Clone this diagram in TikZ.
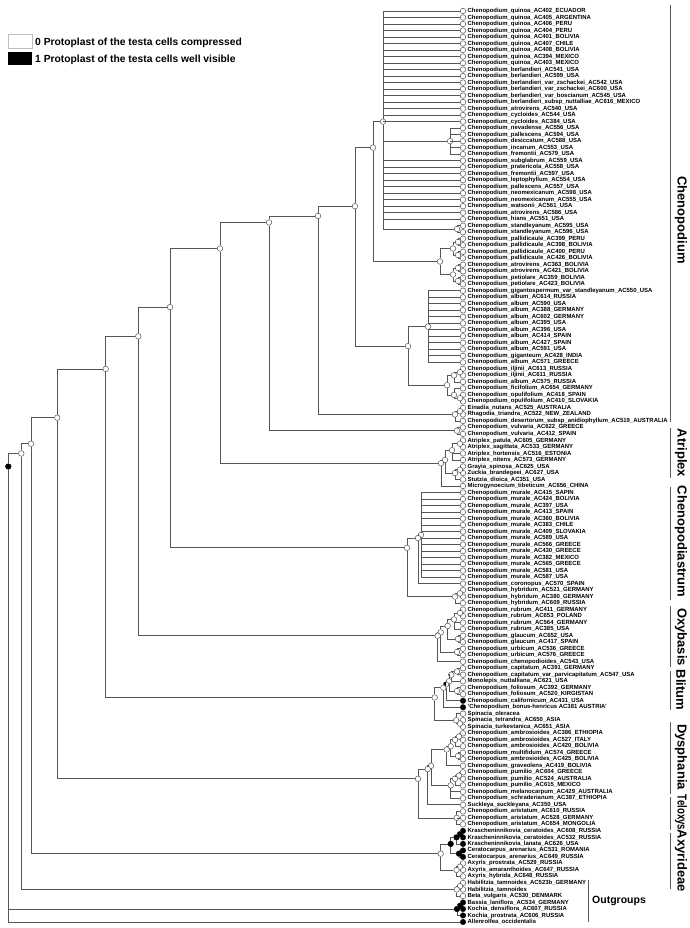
\documentclass[tikz,border=0pt]{standalone}
\usepackage{fontspec}
\setmainfont{Liberation Sans}
\definecolor{linec}{HTML}{555555}
\newcommand\inn[5][inode]{\node[#1] (#2) at (#3,{11+6.507*((#4+#5)/2-1)}) {};}
\newcommand\kids[2]{\foreach \c in {#2}{\draw[br] (#1) |- (\c);}}
\begin{document}
\catcode`\_=12
\begin{tikzpicture}[x=1pt,y=-1pt,
  br/.style={draw=linec, line width=0.75pt},
  leafc/.style={circle, draw=linec, fill=white, line width=0.5pt, inner sep=0pt, minimum size=5.6pt},
  inode/.style={leafc},
  bnode/.style={leafc, fill=black, draw=black},
  lab/.style={anchor=west, inner sep=0pt, font=\bfseries\fontsize{5.95}{6}\selectfont},
  clade/.style={font=\bfseries\fontsize{13}{13}\selectfont, rotate=-90, inner sep=0pt},
  bar/.style={draw=black!65, line width=0.8pt}]
\path[use as bounding box] (0,0) rectangle (689,928);
% legend
\node[draw=black!25, fill=white, minimum width=24pt, minimum height=14pt, inner sep=0pt, anchor=north west, line width=0.5pt] (key0) at (8,34) {};
\node[anchor=west, inner sep=0pt, font=\bfseries\fontsize{10.3}{11}\selectfont] (keyt0) at (35,43) {0 Protoplast of the testa cells compressed};
\node[fill=black, minimum width=24pt, minimum height=13pt, inner sep=0pt, anchor=north west] (key1) at (8,52) {};
\node[anchor=west, inner sep=0pt, font=\bfseries\fontsize{10.3}{11}\selectfont] (keyt1) at (35,60) {1 Protoplast of the testa cells well visible};
% leaves
\foreach \n [count=\i] in {
Chenopodium_quinoa_AC402_ECUADOR,
Chenopodium_quinoa_AC405_ARGENTINA,
Chenopodium_quinoa_AC406_PERU,
Chenopodium_quinoa_AC404_PERU,
Chenopodium_quinoa_AC401_BOLIVIA,
Chenopodium_quinoa_AC407_CHILE,
Chenopodium_quinoa_AC408_BOLIVIA,
Chenopodium_quinoa_AC394_MEXICO,
Chenopodium_quinoa_AC403_MEXICO,
Chenopodium_berlandieri_AC541_USA,
Chenopodium_berlandieri_AC599_USA,
Chenopodium_berlandieri_var_zschackei_AC542_USA,
Chenopodium_berlandieri_var_zschackei_AC600_USA,
Chenopodium_berlandieri_var_boscianum_AC545_USA,
Chenopodium_berlandieri_subsp_nuttalliae_AC616_MEXICO,
Chenopodium_atrovirens_AC540_USA,
Chenopodium_cycloides_AC544_USA,
Chenopodium_cycloides_AC384_USA,
Chenopodium_nevadense_AC556_USA,
Chenopodium_pallescens_AC594_USA,
Chenopodium_desiccatum_AC588_USA,
Chenopodium_incanum_AC553_USA,
Chenopodium_fremontii_AC579_USA,
Chenopodium_subglabrum_AC559_USA,
Chenopodium_pratericola_AC558_USA,
Chenopodium_fremontii_AC597_USA,
Chenopodium_leptophyllum_AC554_USA,
Chenopodium_pallescens_AC557_USA,
Chenopodium_neomexicanum_AC598_USA,
Chenopodium_neomexicanum_AC555_USA,
Chenopodium_watsonii_AC561_USA,
Chenopodium_atrovirens_AC586_USA,
Chenopodium_hians_AC551_USA,
Chenopodium_standleyanum_AC595_USA,
Chenopodium_standleyanum_AC596_USA,
Chenopodium_pallidicaule_AC399_PERU,
Chenopodium_pallidicaule_AC398_BOLIVIA,
Chenopodium_pallidicaule_AC400_PERU,
Chenopodium_pallidicaule_AC426_BOLIVIA,
Chenopodium_atrovirens_AC363_BOLIVIA,
Chenopodium_atrovirens_AC421_BOLIVIA,
Chenopodium_petiolare_AC359_BOLIVIA,
Chenopodium_petiolare_AC423_BOLIVIA,
Chenopodium_gigantospermum_var_standleyanum_AC550_USA,
Chenopodium_album_AC614_RUSSIA,
Chenopodium_album_AC590_USA,
Chenopodium_album_AC388_GERMANY,
Chenopodium_album_AC602_GERMANY,
Chenopodium_album_AC395_USA,
Chenopodium_album_AC396_USA,
Chenopodium_album_AC414_SPAIN,
Chenopodium_album_AC427_SPAIN,
Chenopodium_album_AC591_USA,
Chenopodium_giganteum_AC428_INDIA,
Chenopodium_album_AC571_GREECE,
Chenopodium_iljinii_AC613_RUSSIA,
Chenopodium_iljinii_AC611_RUSSIA,
Chenopodium_album_AC575_RUSSIA,
Chenopodium_ficifolium_AC654_GERMANY,
Chenopodium_opulifolium_AC418_SPAIN,
Chenopodium_opulifolium_AC410_SLOVAKIA,
Einadia_nutans_AC525_AUSTRALIA,
Rhagodia_triandra_AC522_NEW_ZEALAND,
Chenopodium_desertorum_subsp_anidiophyllum_AC519_AUSTRALIA,
Chenopodium_vulvaria_AC622_GREECE,
Chenopodium_vulvaria_AC412_SPAIN,
Atriplex_patula_AC605_GERMANY,
Atriplex_sagittata_AC533_GERMANY,
Atriplex_hortensis_AC516_ESTONIA,
Atriplex_nitens_AC573_GERMANY,
Grayia_spinosa_AC625_USA,
Zuckia_brandegeei_AC627_USA,
Stutzia_dioica_AC351_USA,
Microgynoecium_tibeticum_AC656_CHINA,
Chenopodium_murale_AC415_SAPIN,
Chenopodium_murale_AC424_BOLIVIA,
Chenopodium_murale_AC397_USA,
Chenopodium_murale_AC413_SPAIN,
Chenopodium_murale_AC360_BOLIVIA,
Chenopodium_murale_AC383_CHILE,
Chenopodium_murale_AC409_SLOVAKIA,
Chenopodium_murale_AC589_USA,
Chenopodium_murale_AC566_GREECE,
Chenopodium_murale_AC430_GREECE,
Chenopodium_murale_AC382_MEXICO,
Chenopodium_murale_AC565_GREECE,
Chenopodium_murale_AC581_USA,
Chenopodium_murale_AC587_USA,
Chenopodium_coronopus_AC570_SPAIN,
Chenopodium_hybridum_AC521_GERMANY,
Chenopodium_hybridum_AC380_GERMANY,
Chenopodium_hybridum_AC609_RUSSIA,
Chenopodium_rubrum_AC411_GERMANY,
Chenopodium_rubrum_AC653_POLAND,
Chenopodium_rubrum_AC564_GERMANY,
Chenopodium_rubrum_AC385_USA,
Chenopodium_glaucum_AC652_USA,
Chenopodium_glaucum_AC417_SPAIN,
Chenopodium_urbicum_AC536_GREECE,
Chenopodium_urbicum_AC576_GREECE,
Chenopodium_chenopodioides_AC543_USA,
Chenopodium_capitatum_AC391_GERMANY,
Chenopodium_capitatum_var_parvicapitatum_AC547_USA,
Monolepis_nuttalliana_AC621_USA,
Chenopodium_foliosum_AC392_GERMANY,
Chenopodium_foliosum_AC520_KIRGISTAN,
Chenopodium_californicum_AC431_USA,
'Chenopodium_bonus-henricus AC381 AUSTRIA',
Spinacia_oleracea,
Spinacia_tetrandra_AC650_ASIA,
Spinacia_turkestanica_AC651_ASIA,
Chenopodium_ambrosioides_AC386_ETHIOPIA,
Chenopodium_ambrosioides_AC527_ITALY,
Chenopodium_ambrosioides_AC420_BOLIVIA,
Chenopodium_multifidum_AC574_GREECE,
Chenopodium_ambrosioides_AC425_BOLIVIA,
Chenopodium_graveolens_AC419_BOLIVIA,
Chenopodium_pumilio_AC604_GREECE,
Chenopodium_pumilio_AC524_AUSTRALIA,
Chenopodium_pumilio_AC615_MEXICO,
Chenopodium_melanocarpum_AC429_AUSTRALIA,
Chenopodium_schraderianum_AC387_ETHIOPIA,
Suckleya_suckleyana_AC350_USA,
Chenopodium_aristatum_AC610_RUSSIA,
Chenopodium_aristatum_AC528_GERMANY,
Chenopodium_aristatum_AC654_MONGOLIA,
Krascheninnikovia_ceratoides_AC608_RUSSIA,
Krascheninnikovia_ceratoides_AC532_RUSSIA,
Krascheninnikovia_lanata_AC626_USA,
Ceratocarpus_arenarius_AC531_ROMANIA,
Ceratocarpus_arenarius_AC649_RUSSIA,
Axyris_prostrata_AC529_RUSSIA,
Axyris_amaranthoides_AC647_RUSSIA,
Axyris_hybrida_AC648_RUSSIA,
Habilitzia_tamnoides_AC523b_GERMANY,
Habilitzia_tamnoides,
Beta_vulgaris_AC530_DENMARK,
Bassia_laniflora_AC534_GERMANY,
Kochia_densiflora_AC607_RUSSIA,
Kochia_prostrata_AC606_RUSSIA,
Allenrolfea_occidentalis}{
  \node[leafc] (l\i) at (463,{11+6.507*(\i-1)}) {};
  \node[lab] (t\i) at ([xshift=1.4pt]l\i.east) {\n};
}
\foreach \i in {107,108,127,128,129,130,131,138,139,140,141} \fill[black] (l\i) circle (2.8pt);
% ---- Chenopodium
\inn{c1923}{450}{19}{23} \kids{c1923}{l19,l20,l21,l22,l23}
\inn{c3435}{457}{34}{35} \kids{c3435}{l34,l35}
\inn{P1}{383}{1}{35}
\foreach \i in {1,...,18} \draw[br] (P1) |- (l\i);
\foreach \i in {24,...,33} \draw[br] (P1) |- (l\i);
\kids{P1}{c1923,c3435}
\inn{pa1}{458}{36}{37} \kids{pa1}{l36,l37}
\inn{pa2}{458}{38}{39} \kids{pa2}{l38,l39}
\inn{PAa}{453}{36}{39} \kids{PAa}{pa1,pa2}
\inn{pb1}{458}{40}{41} \kids{pb1}{l40,l41}
\inn{pb2}{458}{42}{43} \kids{pb2}{l42,l43}
\inn{PAb}{453}{40}{43} \kids{PAb}{pb1,pb2}
\inn{PA}{440}{36}{43} \kids{PA}{PAa,PAb}
\inn{C143}{373}{1}{43} \kids{C143}{P1,PA}
\inn{AL}{428}{44}{55}
\foreach \i in {44,...,55} \draw[br] (AL) |- (l\i);
\inn{i1}{460}{56}{57} \kids{i1}{l56,l57}
\inn{i2}{454}{56}{58} \kids{i2}{i1,l58}
\inn{f1}{460}{60}{61} \kids{f1}{l60,l61}
\inn{f2}{454}{59}{61} \kids{f2}{l59,f1}
\inn{I3}{447}{56}{61} \kids{I3}{i2,f2}
\inn{ALL}{408}{44}{61} \kids{ALL}{AL,I3}
\inn{C161}{355}{1}{61} \kids{C161}{C143,ALL}
\inn{e1}{460}{62}{63} \kids{e1}{l62,l63}
\inn{E}{455}{62}{64} \kids{E}{e1,l64}
\inn{C164}{318}{1}{64} \kids{C164}{C161,E}
\inn{V}{457}{65}{66} \kids{V}{l65,l66}
\inn{C166}{269}{1}{66} \kids{C166}{C164,V}
% ---- Atriplex
\inn{at1}{460}{67}{68} \kids{at1}{l67,l68}
\inn{AT}{452}{67}{70} \kids{AT}{at1,l69,l70}
\inn{g1}{460}{71}{72} \kids{g1}{l71,l72}
\inn{G}{455}{71}{73} \kids{G}{g1,l73}
\inn{AT2}{445}{67}{73} \kids{AT2}{AT,G}
\inn{ATR}{441}{67}{74} \kids{ATR}{AT2,l74}
\inn{N1}{220}{1}{74} \kids{N1}{C166,ATR}
% ---- Chenopodiastrum
\inn{MU}{421}{75}{88}
\foreach \i in {75,...,88} \draw[br] (MU) |- (l\i);
\inn{MC}{418}{75}{89} \kids{MC}{MU,l89}
\inn{h1}{460}{90}{91} \kids{h1}{l90,l91}
\inn{H}{455}{90}{92} \kids{H}{h1,l92}
\inn{CHD}{407}{75}{92} \kids{CHD}{MC,H}
\inn{N2}{170}{1}{92} \kids{N2}{N1,CHD}
% ---- Oxybasis
\inn{r1}{460}{93}{94} \kids{r1}{l93,l94}
\inn{O4}{454}{93}{96} \kids{O4}{r1,l95,l96}
\inn{g2}{458}{97}{98} \kids{g2}{l97,l98}
\inn{O3}{447.7}{93}{98} \kids{O3}{O4,g2}
\inn{U}{457}{99}{100} \kids{U}{l99,l100}
\inn{O2}{440.7}{93}{100} \kids{O2}{O3,U}
\inn{O1}{437.7}{93}{101} \kids{O1}{O2,l101}
\inn{N3}{138.3}{1}{101} \kids{N3}{N2,O1}
% ---- Blitum + Spinacia
\inn{b1}{457}{102}{103} \kids{b1}{l102,l103}
\inn{B2a}{451.3}{102}{104} \kids{B2a}{b1,l104}
\inn{f3}{457}{105}{106} \kids{f3}{l105,l106}
\inn{B2}{449}{102}{106} \kids{B2}{B2a,f3}
\inn{B3}{446}{102}{107} \kids{B3}{B2,l107}
\begin{scope}\clip (B3.north west) rectangle (B3.south); \fill[black] (B3) circle (2.8pt);\end{scope}
\inn{BL}{443.3}{102}{108} \kids{BL}{B3,l108}
\inn{sp1}{460}{110}{111} \kids{sp1}{l110,l111}
\inn{SP}{456}{109}{111} \kids{SP}{l109,sp1}
\inn{BS}{434.7}{102}{111} \kids{BS}{BL,SP}
\inn{N4}{105.7}{1}{111} \kids{N4}{N3,BS}
% ---- Dysphania + Teloxys
\inn{d1}{459}{112}{113} \kids{d1}{l112,l113}
\inn{d2}{455}{112}{114} \kids{d2}{d1,l114}
\inn{d3}{458}{115}{116} \kids{d3}{l115,l116}
\inn{d4}{450.7}{112}{116} \kids{d4}{d2,d3}
\inn{AMB}{446.7}{112}{117} \kids{AMB}{d4,l117}
\inn{p1}{459}{118}{119} \kids{p1}{l118,l119}
\inn{p2}{455}{118}{120} \kids{p2}{p1,l120}
\inn{PUM}{450.7}{118}{122} \kids{PUM}{p2,l121,l122}
\inn{D1a}{431}{112}{122} \kids{D1a}{AMB,PUM}
\inn{D1}{427.7}{112}{123} \kids{D1}{D1a,l123}
\inn{AR}{456.7}{124}{126} \kids{AR}{l124,l125,l126}
\inn{DT}{418}{112}{126} \kids{DT}{D1,AR}
\inn{N5}{57.3}{1}{126} \kids{N5}{N4,DT}
% ---- Axyrideae
\inn[bnode]{k1}{460}{127}{128} \kids{k1}{l127,l128}
\inn[bnode]{KR}{456.5}{127}{129} \kids{KR}{k1,l129}
\inn[bnode]{CE}{459}{130}{131} \kids{CE}{l130,l131}
\inn[bnode]{KC}{450.7}{127}{131} \kids{KC}{KR,CE}
\inn{ax1}{460}{132}{133} \kids{ax1}{l132,l133}
\inn{AX}{456.5}{132}{134} \kids{AX}{ax1,l134}
\inn{AXY}{440.7}{127}{134} \kids{AXY}{KC,AX}
\inn{N6}{31}{1}{134} \kids{N6}{N5,AXY}
% ---- outgroups
\inn{hb1}{460}{135}{136} \kids{hb1}{l135,l136}
\inn{HB}{456.7}{135}{137} \kids{HB}{hb1,l137}
\inn{N7}{21.3}{1}{137} \kids{N7}{N6,HB}
\inn[bnode]{bk1}{460}{138}{139} \kids{bk1}{l138,l139}
\inn[bnode]{BK}{457}{138}{140} \kids{BK}{bk1,l140}
\inn[bnode]{ROOT}{8.3}{1}{141} \kids{ROOT}{N7,BK,l141}
% ---- clade labels
\draw[bar] (670,5) -- (670,422);
\node[clade] (cChen) at (681,220) {Chenopodium};
\draw[bar] (670,428) -- (670,478);
\node[clade] (cAtr) at (681,453) {Atriplex};
\draw[bar] (670,487) -- (670,600);
\node[clade] (cCha) at (681,541.5) {Chenopodiastrum};
\draw[bar] (670,606) -- (670,667);
\node[clade] (cOxy) at (681,637) {Oxybasis};
\draw[bar] (670,671) -- (670,710);
\node[clade] (cBli) at (681,690) {Blitum};
\draw[bar] (670,722) -- (670,794);
\node[clade] (cDys) at (681,757) {Dysphania};
\draw[bar] (670,797) -- (670,830);
\node[clade] (cTel) at (681,812.5) {\scalebox{0.74}[1]{Teloxys}};
\draw[bar] (670,833) -- (670,889);
\node[clade] (cAxy) at (681,861) {Axyrideae};
\draw[bar] (588,880) -- (588,922);
\node[font=\bfseries\fontsize{10.5}{11}\selectfont, inner sep=0pt, anchor=west] (cOut) at (592,901) {Outgroups};
\end{tikzpicture}
\end{document}
